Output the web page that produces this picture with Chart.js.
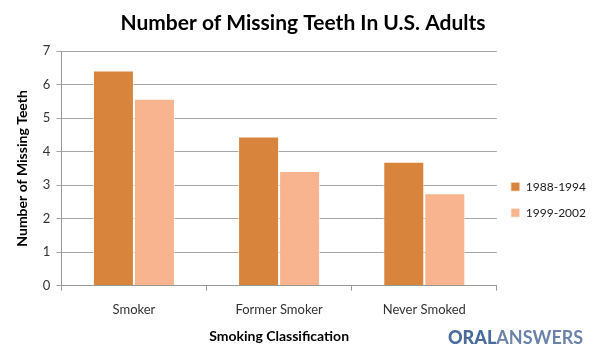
<!DOCTYPE html>
<html>
<head>
<meta charset="utf-8">
<script src="https://cdn.jsdelivr.net/npm/chart.js@4"></script>
<style>
  body { margin: 0; background: #fff; }
  #wrap { position: relative; width: 600px; height: 354px; }
  #brand { position: absolute; left: 448px; top: 326px; font-family: Lato, sans-serif; font-size: 18px; line-height: 22px; }
  #brand .a { color: #4a6b9b; font-weight: 900; }
  #brand .b { color: #6b83a8; font-weight: 700; }
</style>
</head>
<body>
<div id="wrap">
  <canvas id="teethChart" width="600" height="354"></canvas>
  <div id="brand"><span class="a">ORAL</span><span class="b">ANSWERS</span></div>
</div>
<script>
let categories = ["Smoker", "Former Smoker", "Never Smoked"];
let seriesNames = ["1988-1994", "1999-2002"];
let values1988 = [6.42, 4.45, 3.7];
let values1999 = [5.58, 3.42, 2.76];
let yTicks = [0, 1, 2, 3, 4, 5, 6, 7];

Chart.defaults.font.family = 'Lato, sans-serif';
Chart.defaults.color = '#333';

let ctx = document.getElementById('teethChart').getContext('2d');

let teethChart = new Chart(ctx, {
  type: 'bar',
  data: {
    labels: categories,
    datasets: [
      {
        label: seriesNames[0],
        data: values1988,
        backgroundColor: '#d9843d',
        borderColor: 'rgba(255,255,255,0.7)',
        borderWidth: 1
      },
      {
        label: seriesNames[1],
        data: values1999,
        backgroundColor: '#f7b48e',
        borderColor: 'rgba(255,255,255,0.7)',
        borderWidth: 1
      }
    ]
  },
  options: {
    responsive: false,
    animation: false,
    layout: {
      padding: { left: 10, right: 4, top: 8, bottom: 5 }
    },
    datasets: {
      bar: {
        categoryPercentage: 0.565,
        barPercentage: 1
      }
    },
    plugins: {
      title: {
        display: true,
        text: 'Number of Missing Teeth In U.S. Adults',
        font: { size: 21, weight: 'bold' },
        color: '#000',
        padding: { top: 3, bottom: 15 }
      },
      legend: {
        position: 'right',
        title: {
          display: true,
          text: ' ',
          padding: { top: 14, bottom: 14 }
        },
        labels: {
          boxWidth: 9,
          boxHeight: 9,
          padding: 14,
          font: { size: 12 },
          color: '#222'
        }
      },
      tooltip: { enabled: false }
    },
    scales: {
      x: {
        grid: {
          display: true,
          drawOnChartArea: false,
          tickLength: 5,
          color: '#999'
        },
        border: { color: '#999' },
        ticks: { font: { size: 13 }, padding: 11 },
        title: {
          display: true,
          text: 'Smoking Classification',
          font: { size: 14, weight: 'bold' },
          color: '#000',
          padding: { top: 0 }
        }
      },
      y: {
        min: yTicks[0],
        max: yTicks[yTicks.length - 1],
        ticks: { stepSize: 1, font: { size: 13 }, padding: 6 },
        afterBuildTicks: function(axis) {
          axis.ticks = yTicks.map(function(v) { return { value: v }; });
        },
        grid: { color: '#a6a6a6', tickLength: 5 },
        border: { color: '#999' },
        title: {
          display: true,
          text: 'Number of Missing Teeth',
          font: { size: 14, weight: 'bold' },
          color: '#000',
          padding: { bottom: 6 }
        }
      }
    }
  }
});
</script>
</body>
</html>
